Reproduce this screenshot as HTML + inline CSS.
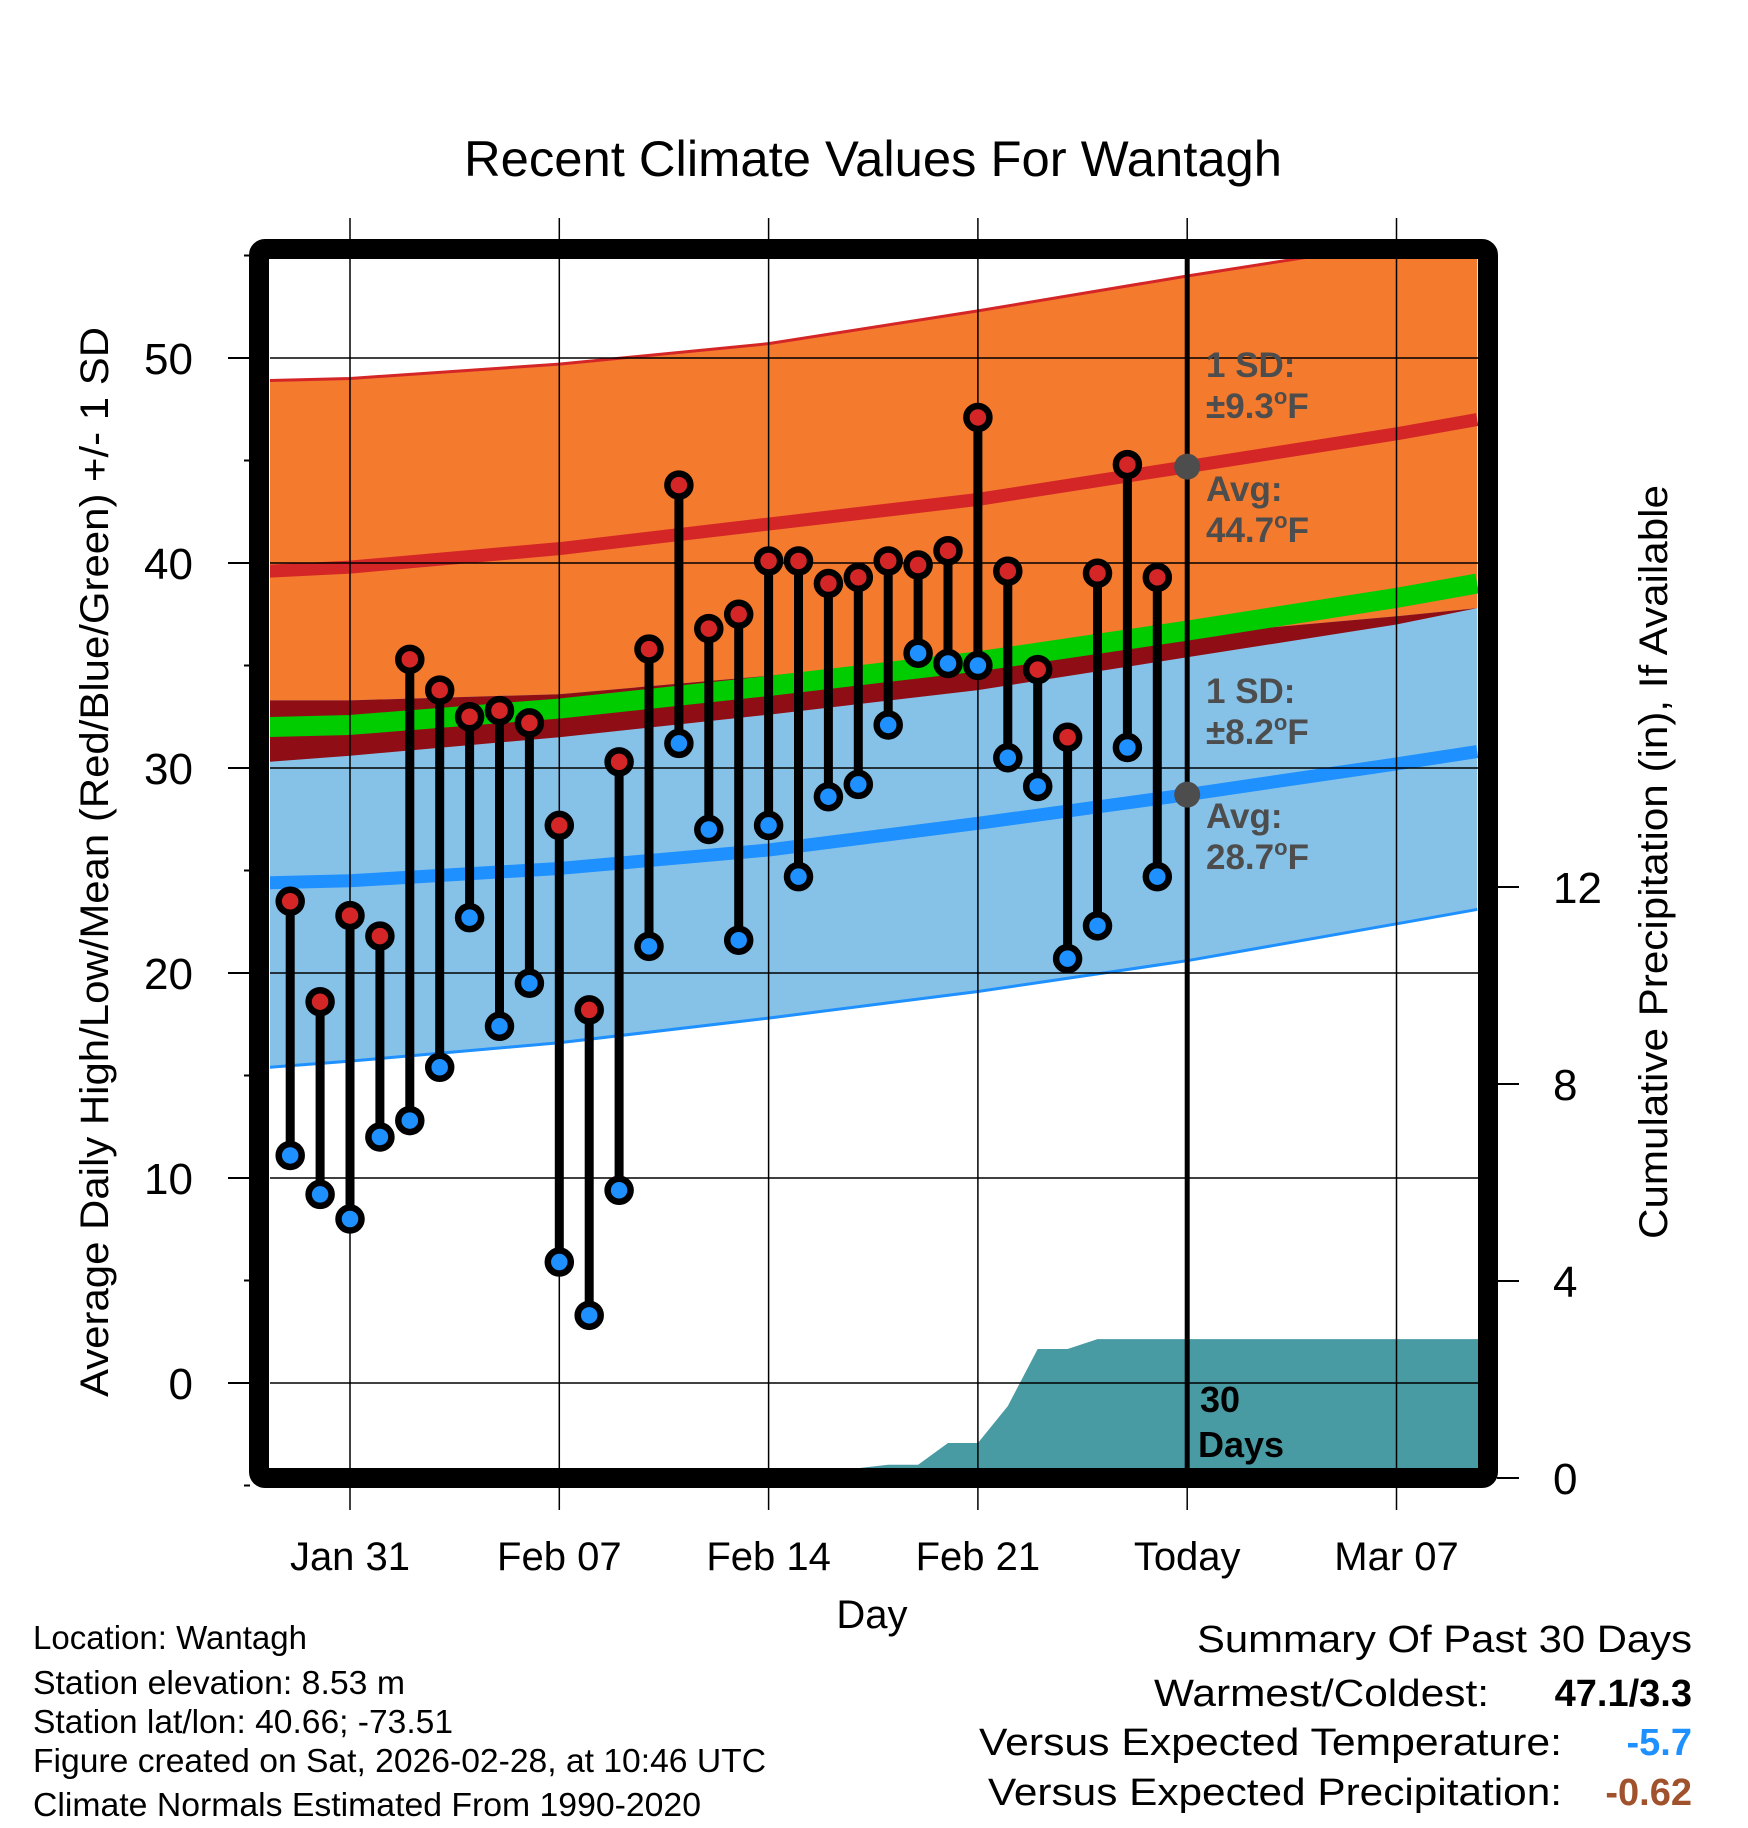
<!DOCTYPE html>
<html><head><meta charset="utf-8"><style>
html,body{margin:0;padding:0;background:#fff;}
svg{display:block;font-family:"Liberation Sans",Arial,sans-serif;}
</style></head><body>
<svg id="chart" width="1748" height="1828" viewBox="0 0 1748 1828" xmlns="http://www.w3.org/2000/svg">
<text x="873" y="176" font-size="50" text-anchor="middle" textLength="818" lengthAdjust="spacingAndGlyphs">Recent Climate Values For Wantagh</text>
<g id="plot"></g>
<text transform="translate(108,862) rotate(-90)" font-size="40" text-anchor="middle" textLength="1070" lengthAdjust="spacingAndGlyphs">Average Daily High/Low/Mean (Red/Blue/Green) +/- 1 SD</text>
<text transform="translate(1667,862) rotate(-90)" font-size="40" text-anchor="middle" textLength="754" lengthAdjust="spacingAndGlyphs">Cumulative Precipitation (in), If Available</text>
<text x="872" y="1628" font-size="40" text-anchor="middle">Day</text>
<g font-size="33">
<text x="33" y="1649">Location: Wantagh</text>
<text x="33" y="1694" textLength="372" lengthAdjust="spacingAndGlyphs">Station elevation: 8.53 m</text>
<text x="33" y="1733" textLength="420" lengthAdjust="spacingAndGlyphs">Station lat/lon: 40.66; -73.51</text>
<text x="33" y="1772" textLength="733" lengthAdjust="spacingAndGlyphs">Figure created on Sat, 2026-02-28, at 10:46 UTC</text>
<text x="33" y="1816" textLength="668" lengthAdjust="spacingAndGlyphs">Climate Normals Estimated From 1990-2020</text>
</g>
<g font-size="38">
<text x="1692" y="1652" text-anchor="end" textLength="495" lengthAdjust="spacingAndGlyphs">Summary Of Past 30 Days</text>
<text x="1489" y="1706" text-anchor="end" textLength="335" lengthAdjust="spacingAndGlyphs">Warmest/Coldest:</text>
<text x="1692" y="1706" text-anchor="end" font-weight="bold">47.1/3.3</text>
<text x="1562" y="1755" text-anchor="end" textLength="583" lengthAdjust="spacingAndGlyphs">Versus Expected Temperature:</text>
<text x="1692" y="1755" text-anchor="end" font-weight="bold" fill="#1e90ff">-5.7</text>
<text x="1562" y="1805" text-anchor="end" textLength="574" lengthAdjust="spacingAndGlyphs">Versus Expected Precipitation:</text>
<text x="1692" y="1805" text-anchor="end" font-weight="bold" fill="#a0522d">-0.62</text>
</g>
</svg>
<script>
// data (day offsets relative to Jan 31)
const days = [-2,-1,0,1,2,3,4,5,6,7,8,9,10,11,12,13,14,15,16,17,18,19,20,21,22,23,24,25,26,27];
const highs = [23.5,18.6,22.8,21.8,35.3,33.8,32.5,32.8,32.2,27.2,18.2,30.3,35.8,43.8,36.8,37.5,40.1,40.1,39.0,39.3,40.1,39.9,40.6,47.1,39.6,34.8,31.5,39.5,44.8,39.3];
const lows = [11.1,9.2,8.0,12.0,12.8,15.4,22.7,17.4,19.5,5.9,3.3,9.4,21.3,31.2,27.0,21.6,27.2,24.7,28.6,29.2,32.1,35.6,35.1,35.0,30.5,29.1,20.7,22.3,31.0,24.7];
const precip = [0,0,0,0,0,0,0,0,0,0,0,0,0,0,0,0,0,0,0,0.2,0.27,0.27,0.71,0.71,1.46,2.62,2.62,2.82,2.82,2.82];
const normDays = [-2.7,0,7,14,21,28,35,37.7];
const highAvg = [39.6,39.8,40.7,41.9,43.1,44.7,46.3,47.0];
const highUpper = [48.9,49.0,49.7,50.7,52.3,54.0,55.6,56.4];
const highLower = [30.3,30.6,31.5,32.6,33.8,35.4,37.0,37.8];
const lowAvg = [24.4,24.5,25.1,26.0,27.3,28.7,30.2,30.8];
const lowUpper = [33.3,33.3,33.6,34.5,35.5,36.5,37.4,37.8];
const lowLower = [15.4,15.7,16.6,17.8,19.1,20.6,22.4,23.1];
const meanAvg = [32.0,32.1,32.9,34.0,35.2,36.7,38.3,39.0];
const xTickDays = [0,7,14,21,28,35];
const xTickLabels = ["Jan 31","Feb 07","Feb 14","Feb 21","Today","Mar 07"];
const yTicks = [0,10,20,30,40,50];
const yMinor = [-5,5,15,25,35,45,55];
const pTicks = [0,4,8,12];

const X = d => 350 + 29.9*d;
const Y = t => 1383 - 20.5*t;
const P = p => 1478 - 49.25*p;
const NS = "http://www.w3.org/2000/svg";
const plot = document.getElementById('plot');
function mk(tag, attrs, parent){const e=document.createElementNS(NS,tag);for(const k in attrs)e.setAttribute(k,attrs[k]);(parent||plot).appendChild(e);return e;}
const IL=270, IR=1478, IT=259, IB=1468;

const defs = mk('defs',{});
const cp = mk('clipPath',{id:'clip'},defs);
mk('rect',{x:IL,y:IT,width:IR-IL,height:IB-IT},cp);
const g = mk('g',{'clip-path':'url(#clip)'});



function band(up, lo, fill, name){
  let pts = normDays.map((d,i)=>X(d)+','+Y(up[i]));
  pts = pts.concat(normDays.map((d,i)=>X(d)+','+Y(lo[i])).reverse());
  const e = mk('polygon',{points:pts.join(' '),fill:fill},g);
  
  
  return e;
}
function line(arr, color, w, name){
  const e = mk('polyline',{points:normDays.map((d,i)=>X(d)+','+Y(arr[i])).join(' '),fill:'none',stroke:color,'stroke-width':w,'stroke-linejoin':'round'},g);
  
  
}
band(highUpper, highLower, '#f47a2e', 'high-sd-band');
band(lowUpper, lowLower, '#86c2e8', 'low-sd-band');
band(lowUpper.map((v,i)=>Math.max(v,highLower[i])), highLower, '#8f0e16', 'overlap-band');
line(highUpper,'#d42626',3,'high-upper-line');
line(lowLower,'#1e90ff',3,'low-lower-line');
line(highAvg,'#d42626',13,'high-avg-line');
line(lowAvg,'#1e90ff',13,'low-avg-line');
line(meanAvg,'#00cc00',20,'mean-avg-line');

{
  let pts = [X(days[0])+','+P(0)];
  days.forEach((d,i)=>pts.push(X(d)+','+P(precip[i])));
  pts.push(IR+','+P(precip[precip.length-1]));
  pts.push(IR+','+P(0));
  const e = mk('polygon',{points:pts.join(' '),fill:'#489aa3'},g);
  
  
}
yTicks.forEach(t=>{
  const e = mk('line',{x1:IL,x2:IR,y1:Y(t),y2:Y(t),stroke:'#000','stroke-width':1.5},g);
  
  
});
xTickDays.forEach(d=>{
  const e = mk('line',{x1:X(d),x2:X(d),y1:IT,y2:IB,stroke:'#000','stroke-width':1.5},g);
  
  
});
{
  const e = mk('line',{x1:X(28),x2:X(28),y1:IT,y2:IB,stroke:'#000','stroke-width':5},g);
  
  
}
days.forEach((d,i)=>{
  const s = mk('line',{x1:X(d),x2:X(d),y1:Y(highs[i]),y2:Y(lows[i]),stroke:'#000','stroke-width':9},g);
  
  
});
days.forEach((d,i)=>{
  const h = mk('circle',{cx:X(d),cy:Y(highs[i]),r:11.5,fill:'#d42626',stroke:'#000','stroke-width':6.5},g);
  
  
  const l = mk('circle',{cx:X(d),cy:Y(lows[i]),r:11.5,fill:'#1e90ff',stroke:'#000','stroke-width':6.5},g);
  
  
});
[[highAvg[5],'high-avg-marker'],[lowAvg[5],'low-avg-marker']].forEach(([v,n])=>{
  const c = mk('circle',{cx:X(28),cy:Y(v),r:13,fill:'#4d4d4d'},g);
  
  
});
const ann = [["1 SD:",377],["±9.3|F",418],["Avg:",501],["44.7|F",542],["1 SD:",703],["±8.2|F",744],["Avg:",828],["28.7|F",869]];
ann.forEach(([t,y])=>{
  const e = mk('text',{x:1206,y:y,'font-size':35,'font-weight':'bold',fill:'#4d4d4d'},g);
  
  
  if(t.indexOf('|')>=0){
    const parts=t.split('|');
    e.appendChild(document.createTextNode(parts[0]));
    const s=mk('tspan',{'font-size':22,dy:-14},e);
    s.textContent='o';
    const f=mk('tspan',{dy:14},e);
    f.textContent=parts[1];
  } else e.textContent=t;
});
{
  const e = mk('text',{x:1200,y:1412,'font-size':36,'font-weight':'bold',fill:'#000'},g);
  e.textContent='30';
  
  
  const e2 = mk('text',{x:1198,y:1457,'font-size':36,'font-weight':'bold',fill:'#000'},g);
  e2.textContent='Days';
  
  
}
{
  const f = mk('rect',{x:259,y:249,width:1229,height:1229,rx:6,fill:'none',stroke:'#000','stroke-width':20});
  
  
}
yTicks.forEach(t=>{
  const e = mk('line',{x1:228,x2:250,y1:Y(t),y2:Y(t),stroke:'#000','stroke-width':2});
  
  
  const l = mk('text',{x:193,y:Y(t)+16,'font-size':44,'text-anchor':'end'});
  l.textContent = t;
  
  
});
yMinor.forEach(t=>{
  const e = mk('line',{x1:244,x2:250,y1:Y(t),y2:Y(t),stroke:'#000','stroke-width':2});
  
  
});
xTickDays.forEach((d,i)=>{
  const a = mk('line',{x1:X(d),x2:X(d),y1:218,y2:240,stroke:'#000','stroke-width':1.5});
  
  
  const b = mk('line',{x1:X(d),x2:X(d),y1:1487,y2:1510,stroke:'#000','stroke-width':1.5});
  
  
  const l = mk('text',{x:X(d),y:1570,'font-size':40,'text-anchor':'middle'});
  l.textContent = xTickLabels[i];
  
  
});
pTicks.forEach(p=>{
  const e = mk('line',{x1:1497,x2:1519,y1:P(p),y2:P(p),stroke:'#000','stroke-width':2});
  
  
  const l = mk('text',{x:1553,y:P(p)+16,'font-size':44});
  l.textContent = p;
  
  
});
</script>
</body></html>
